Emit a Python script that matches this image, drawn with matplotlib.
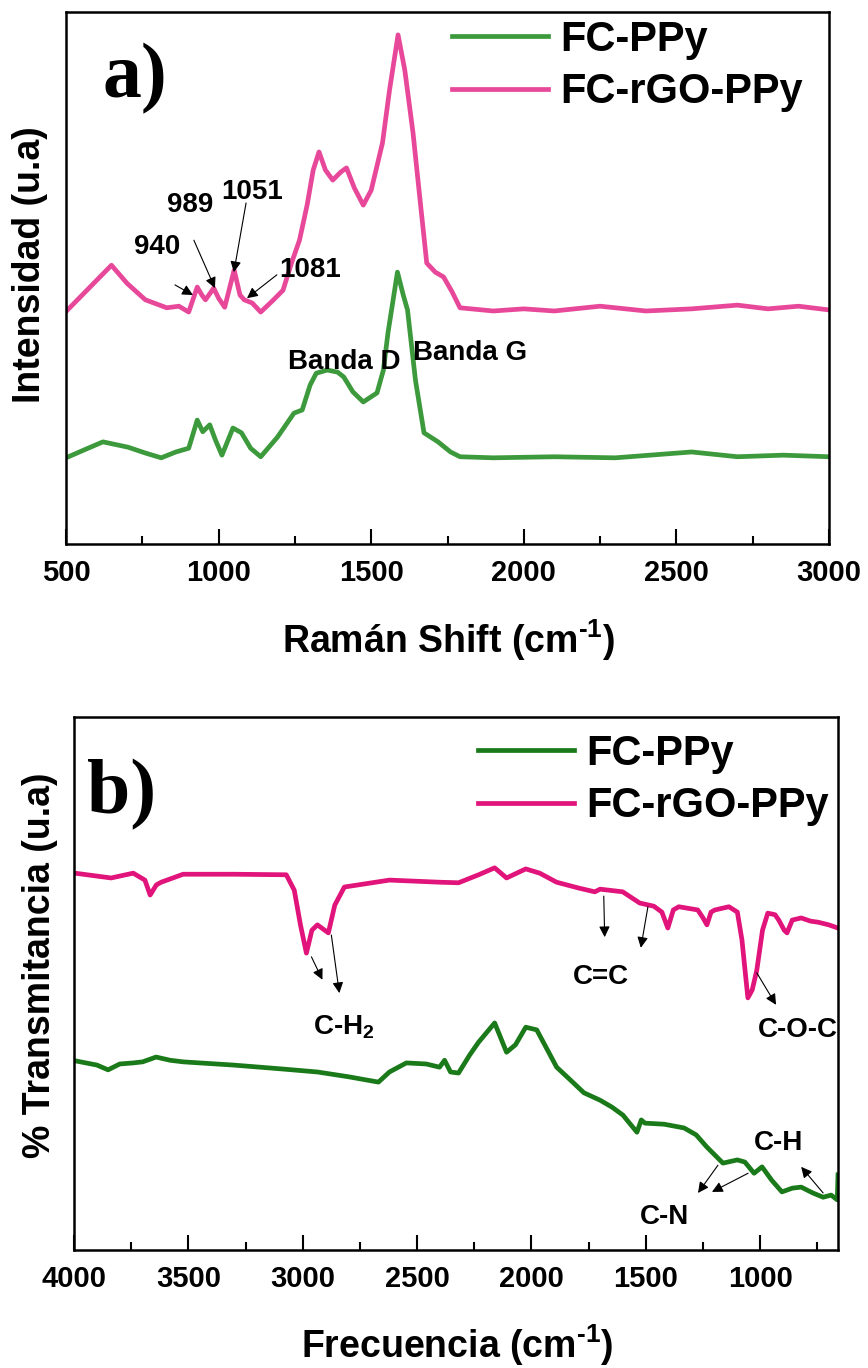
import numpy as np
import matplotlib.pyplot as plt

plt.rcParams['font.family'] = ['Liberation Sans', 'DejaVu Sans']
plt.rcParams['font.weight'] = 'bold'
plt.rcParams['mathtext.default'] = 'regular'

# a) Raman spectra
raman_x_ppy = [500, 560, 621, 703, 760, 812, 860, 902, 930, 948, 971, 990, 1011, 1047, 1075, 1105,
               1138, 1193, 1247, 1274, 1300, 1320, 1356, 1390, 1410, 1440, 1474, 1519, 1540, 1555,
               1586, 1605, 1619, 1645, 1673, 1719, 1760, 1791, 1900, 2100, 2300, 2550, 2700, 2850, 3000]
raman_y_ppy = [0.162, 0.177, 0.192, 0.182, 0.171, 0.162, 0.173, 0.180, 0.233, 0.211, 0.224, 0.195, 0.167,
               0.218, 0.209, 0.180, 0.164, 0.201, 0.246, 0.252, 0.299, 0.321, 0.327, 0.323, 0.314, 0.286,
               0.267, 0.284, 0.327, 0.397, 0.511, 0.468, 0.440, 0.308, 0.209, 0.192, 0.173, 0.164, 0.162,
               0.164, 0.162, 0.173, 0.164, 0.167, 0.164]

raman_x_rgo = [500, 649, 700, 760, 830, 870, 902, 930, 945, 957, 984, 1000, 1020, 1051, 1070, 1084, 1110,
               1138, 1180, 1211, 1240, 1265, 1290, 1310, 1329, 1350, 1374, 1400, 1419, 1445, 1474, 1500,
               1537, 1560, 1588, 1610, 1637, 1660, 1682, 1710, 1737, 1765, 1791, 1900, 2000, 2100, 2250,
               2400, 2550, 2700, 2800, 2900, 3000]
raman_y_rgo = [0.437, 0.524, 0.490, 0.459, 0.444, 0.447, 0.436, 0.483, 0.468, 0.459, 0.481, 0.462, 0.445,
               0.515, 0.468, 0.459, 0.453, 0.436, 0.459, 0.477, 0.530, 0.571, 0.637, 0.703, 0.737, 0.703,
               0.684, 0.699, 0.707, 0.669, 0.637, 0.665, 0.754, 0.853, 0.957, 0.891, 0.773, 0.647, 0.528,
               0.511, 0.502, 0.474, 0.444, 0.438, 0.442, 0.438, 0.447, 0.438, 0.442, 0.449, 0.442, 0.447,
               0.440]

# b) FTIR spectra
ftir_x_ppy = [3996, 3900, 3851, 3800, 3741, 3700, 3641, 3580, 3523, 3304, 3100, 2936, 2800, 2669, 2621,
              2547, 2460, 2402, 2380, 2354, 2319, 2270, 2231, 2161, 2109, 2070, 2025, 1977, 1890, 1830,
              1771, 1700, 1648, 1600, 1539, 1520, 1504, 1420, 1333, 1280, 1233, 1163, 1100, 1067, 1027,
              992, 950, 905, 860, 821, 770, 725, 690, 663, 660]
ftir_y_ppy = [0.355, 0.347, 0.338, 0.349, 0.351, 0.353, 0.362, 0.356, 0.353, 0.347, 0.340, 0.334, 0.325,
              0.315, 0.334, 0.351, 0.349, 0.343, 0.356, 0.334, 0.332, 0.366, 0.390, 0.426, 0.371, 0.385,
              0.418, 0.413, 0.343, 0.319, 0.295, 0.281, 0.268, 0.253, 0.221, 0.244, 0.238, 0.236, 0.229,
              0.216, 0.193, 0.163, 0.169, 0.165, 0.144, 0.156, 0.131, 0.109, 0.116, 0.118, 0.107, 0.099,
              0.103, 0.094, 0.141]

ftir_x_rgo = [3996, 3838, 3741, 3690, 3667, 3640, 3619, 3523, 3300, 3072, 3037, 3010, 2984, 2960, 2936,
              2888, 2860, 2818, 2621, 2400, 2319, 2231, 2161, 2109, 2025, 1964, 1890, 1793, 1723, 1700,
              1601, 1527, 1465, 1430, 1404, 1380, 1356, 1273, 1250, 1233, 1215, 1198, 1137, 1100, 1080,
              1054, 1035, 1015, 990, 967, 935, 919, 895, 883, 860, 821, 780, 747, 700, 660]
ftir_y_rgo = [0.707, 0.698, 0.707, 0.694, 0.666, 0.685, 0.690, 0.705, 0.705, 0.704, 0.675, 0.610, 0.557,
              0.600, 0.610, 0.595, 0.647, 0.681, 0.694, 0.690, 0.689, 0.704, 0.717, 0.698, 0.715, 0.707,
              0.690, 0.679, 0.672, 0.677, 0.672, 0.651, 0.645, 0.634, 0.604, 0.638, 0.644, 0.638, 0.623,
              0.610, 0.634, 0.638, 0.644, 0.634, 0.582, 0.473, 0.488, 0.525, 0.600, 0.632, 0.629, 0.619,
              0.600, 0.595, 0.619, 0.623, 0.617, 0.615, 0.610, 0.604]

# annotations: (text, x, y) and arrows (tail, head)
raman_labels = [('940', 798, 0.558), ('989', 906, 0.637), ('1051', 1109, 0.662), ('1081', 1299, 0.515),
                ('Banda D', 1411, 0.342), ('Banda G', 1824, 0.359)]
raman_arrows = [((857, 0.487), (916, 0.468)), ((919, 0.571), (988, 0.481)),
                ((1090, 0.641), (1050, 0.511)), ((1191, 0.506), (1093, 0.462))]
ftir_labels = [('C-H$_2$', 2822, 0.418), ('C=C', 1697, 0.512), ('C-O-C', 835, 0.413),
               ('C-N', 1417, 0.062), ('C-H', 918, 0.201)]
ftir_arrows = [((2962, 0.550), (2914, 0.507)), ((2875, 0.591), (2840, 0.482)),
               ((1684, 0.664), (1680, 0.587)), ((1491, 0.644), (1522, 0.567)),
               ((1015, 0.520), (931, 0.460)), ((1185, 0.159), (1272, 0.107)),
               ((1053, 0.144), (1211, 0.109)), ((725, 0.107), (821, 0.156))]

W, H = 868, 1368
fig = plt.figure(figsize=(8.68, 13.68), dpi=100)
ax1 = fig.add_axes([66/W, 1-544/H, (829-66)/W, (544-12)/H])
ax2 = fig.add_axes([74/W, 1-1250/H, (838-74)/W, (1250-717)/H])

def style(ax):
    for s in ax.spines.values():
        s.set_linewidth(1.8)
    ax.tick_params(axis='x', which='major', direction='in', length=11, width=1.5, labelsize=21, pad=11)
    ax.tick_params(axis='x', which='minor', direction='in', length=6, width=1.5)
    ax.set_yticks([])
    ax.set_ylim(0, 1)

arrow_kw = dict(arrowstyle='-|>', color='k', lw=0.8, mutation_scale=16, shrinkA=0, shrinkB=0)
cm_label = 'cm$^{\u2010' + '1}$'

# panel a
ax1.plot(raman_x_ppy, raman_y_ppy, color='#3c9a3c', lw=3.4, label='FC-PPy')
ax1.plot(raman_x_rgo, raman_y_rgo, color='#e8489a', lw=3.4, label='FC-rGO-PPy')
ax1.set_xlim(500, 3000)
ax1.set_xticks([500, 1000, 1500, 2000, 2500, 3000])
ax1.set_xticks(np.arange(750, 3000, 500), minor=True)
style(ax1)
for t, x, y in raman_labels:
    ax1.text(x, y, t, fontsize=20, ha='center', va='center')
for tail, head in raman_arrows:
    ax1.annotate('', xy=head, xytext=tail, arrowprops=arrow_kw)
fig.text(135/W, 1-79/H, 'a)', family='Liberation Serif', fontsize=56, fontweight='bold',
         ha='center', va='center')
ax1.legend(loc='upper left', bbox_to_anchor=(452/W, 1-20/H), bbox_transform=fig.transFigure,
           frameon=False, fontsize=30, handlelength=2.3, handletextpad=0.3, labelspacing=0.3,
           borderpad=0, borderaxespad=0)
fig.text(30/W, 1-265/H, 'Intensidad (u.a)', rotation=90, fontsize=27, ha='center', va='center')
fig.text(449/W, 1-640/H, 'Ramán Shift (' + cm_label + ')', fontsize=27, ha='center', va='center')

# panel b
ax2.plot(ftir_x_ppy, ftir_y_ppy, color='#1a7a1a', lw=3.4, label='FC-PPy')
ax2.plot(ftir_x_rgo, ftir_y_rgo, color='#e0147a', lw=3.4, label='FC-rGO-PPy')
ax2.set_xlim(4000, 660)
ax2.set_xticks([4000, 3500, 3000, 2500, 2000, 1500, 1000])
ax2.set_xticks(np.arange(3750, 700, -500), minor=True)
style(ax2)
for t, x, y in ftir_labels:
    ax2.text(x, y, t, fontsize=20, ha='center', va='center', clip_on=True)
for tail, head in ftir_arrows:
    ax2.annotate('', xy=head, xytext=tail, arrowprops=arrow_kw)
fig.text(122/W, 1-795/H, 'b)', family='Liberation Serif', fontsize=56, fontweight='bold',
         ha='center', va='center')
ax2.legend(loc='upper left', bbox_to_anchor=(478/W, 1-734/H), bbox_transform=fig.transFigure,
           frameon=False, fontsize=30, handlelength=2.3, handletextpad=0.3, labelspacing=0.3,
           borderpad=0, borderaxespad=0)
fig.text(40/W, 1-965/H, '% Transmitancia (u.a)', rotation=90, fontsize=27, ha='center', va='center')
fig.text(457/W, 1-1345/H, 'Frecuencia (' + cm_label + ')', fontsize=27, ha='center', va='center')

fig.savefig('out.png', dpi=100)
